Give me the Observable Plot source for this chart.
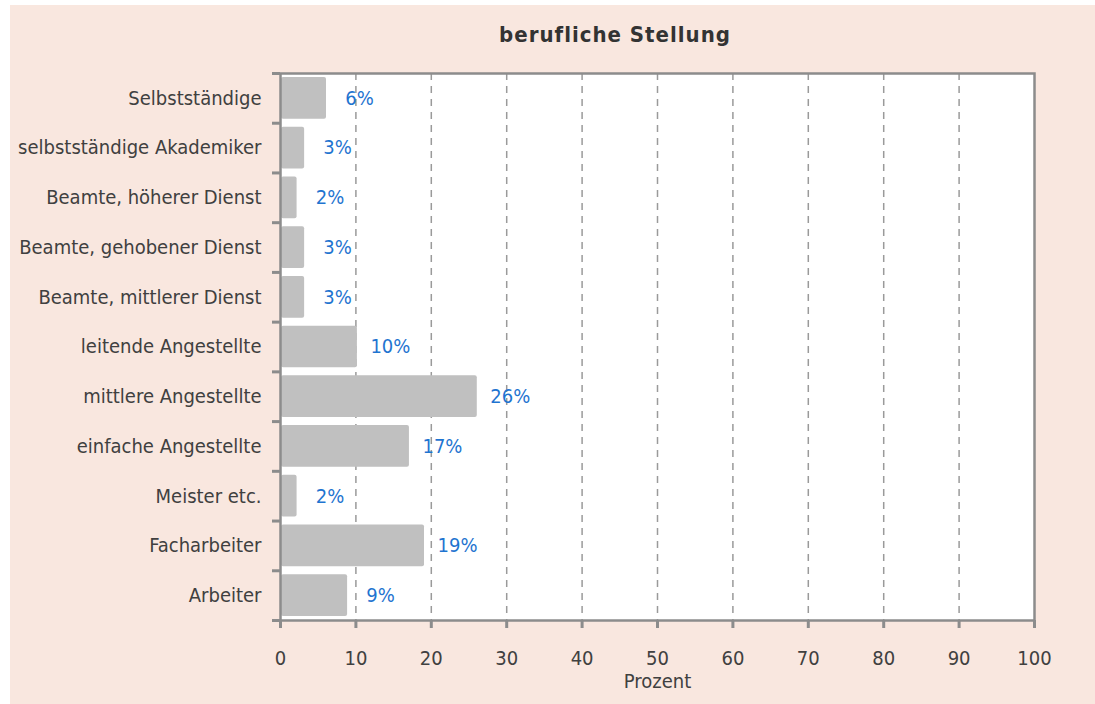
<!DOCTYPE html>
<html><head><meta charset="utf-8">
<script src="https://cdn.jsdelivr.net/npm/d3@7"></script>
<script src="https://cdn.jsdelivr.net/npm/@observablehq/plot@0.6"></script>
<style>
body{margin:0;background:#fff;width:1095px;height:704px;overflow:hidden;font-family:"DejaVu Sans Condensed",sans-serif;}
#panel{position:absolute;left:10px;top:5px;width:1085px;height:699px;background:#f9e7df;}
#title{position:absolute;left:0;width:1210px;top:17px;text-align:center;font-size:22px;font-weight:600;letter-spacing:1px;color:#333;}
#chart{position:absolute;left:0;top:50px;}
</style></head>
<body>
<div id="panel"><div id="title">berufliche Stellung</div><div id="chart"></div></div>
<script>
const categories = ["Selbstständige","selbstständige Akademiker","Beamte, höherer Dienst","Beamte, gehobener Dienst","Beamte, mittlerer Dienst","leitende Angestellte","mittlere Angestellte","einfache Angestellte","Meister etc.","Facharbeiter","Arbeiter"];
const values = [6.1, 3.2, 2.2, 3.2, 3.2, 10.2, 26.1, 17.1, 2.2, 19.1, 8.9];
const valueLabels = ["6%","3%","2%","3%","3%","10%","26%","17%","2%","19%","9%"];
const xTicks = [0,10,20,30,40,50,60,70,80,90,100];
const gridTicks = [10,20,30,40,50,60,70,80,90];

const data = categories.map((c,i)=>({cat:c, i, value:values[i], label:valueLabels[i]}));
const bounds = d3.range(0, categories.length + 1);

const chart = Plot.plot({
  width: 1085, height: 649,
  marginLeft: 270, marginRight: 61, marginTop: 18, marginBottom: 84,
  style: {fontFamily: '"DejaVu Sans Condensed",sans-serif', color: "#404040", background: "transparent"},
  x: {domain: [0,100]},
  y: {domain: [0, categories.length], reverse: true},
  marks: [
    Plot.frame({fill: "white", stroke: null}),
    Plot.ruleX(gridTicks, {stroke: "#9a9a9a", strokeWidth: 1.5, strokeDasharray: "7,6"}),
    Plot.rect(data, {x1: 0, x2: "value", y1: "i", y2: d => d.i + 1, insetTop: 4, insetBottom: 4, insetLeft: 1, fill: "#c0c0c0", rx: 2}),
    Plot.text(data, {x: "value", y: d => d.i + 0.5, text: "label", dx: 33, fill: "#1f74d0", fontSize: 20}),
    Plot.text(data, {x: 0, y: d => d.i + 0.5, text: "cat", textAnchor: "end", dx: -19, fill: "#404040", fontSize: 20}),
    Plot.frame({stroke: "#8c8c8c", strokeWidth: 2.5}),
    Plot.axisY({ticks: bounds, tickSize: 8, tickFormat: () => "", stroke: "#8c8c8c", strokeWidth: 3, label: null}),
    Plot.axisX({ticks: xTicks, tickSize: 8, tickPadding: 22, stroke: "#8c8c8c", strokeWidth: 3, fill: "#404040", fontSize: 20,
      label: "Prozent", labelAnchor: "center", labelArrow: "none", labelOffset: 67})
  ]
});
document.getElementById("chart").appendChild(chart);
</script>
</body></html>
